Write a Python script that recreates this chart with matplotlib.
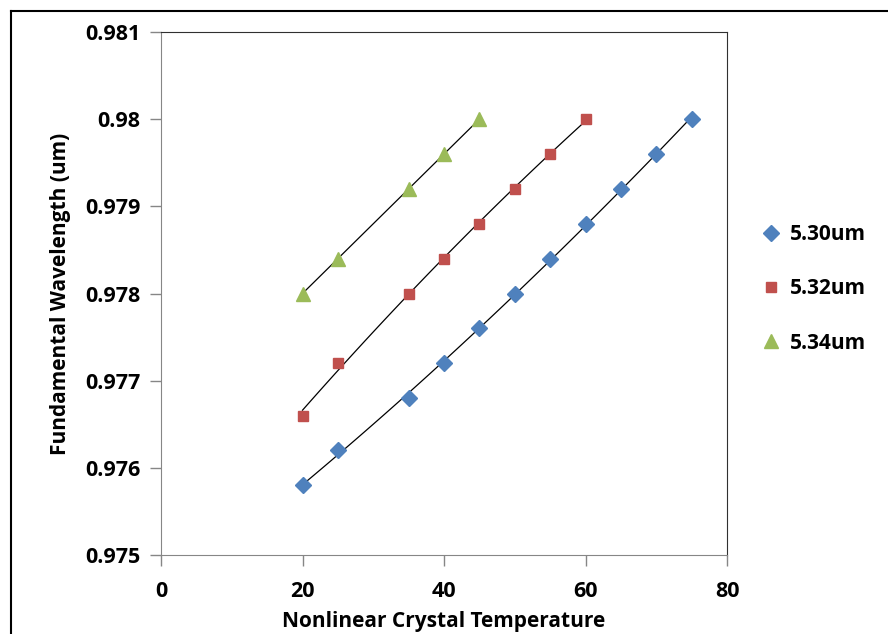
import numpy as np
import matplotlib.pyplot as plt
from matplotlib.lines import Line2D

plt.rcParams['font.family'] = ['Open Sans', 'DejaVu Sans']
plt.rcParams['font.weight'] = 'bold'

# data
t_530 = [20, 25, 35, 40, 45, 50, 55, 60, 65, 70, 75]
w_530 = [0.9758, 0.9762, 0.9768, 0.9772, 0.9776, 0.9780, 0.9784, 0.9788, 0.9792, 0.9796, 0.9800]
t_532 = [20, 25, 35, 40, 45, 50, 55, 60]
w_532 = [0.9766, 0.9772, 0.9780, 0.9784, 0.9788, 0.9792, 0.9796, 0.9800]
t_534 = [20, 25, 35, 40, 45]
w_534 = [0.9780, 0.9784, 0.9792, 0.9796, 0.9800]
labels = ['5.30um', '5.32um', '5.34um']
x_ticks = [0, 20, 40, 60, 80]
y_ticks = [0.975, 0.976, 0.977, 0.978, 0.979, 0.98, 0.981]

fig = plt.figure(figsize=(8.88, 6.34), dpi=100)
ax = fig.add_axes([161/888, 1-555/634, (727-161)/888, (555-32)/634])

series = [(t_530, w_530, '#4F81BD', 'D', 8.5),
          (t_532, w_532, '#C0504D', 's', 7),
          (t_534, w_534, '#9BBB59', '^', 10)]
for (t, w, c, m, s), lab in zip(series, labels):
    # polynomial trendline like Excel
    p = np.polyfit(t, w, 2)
    xx = np.linspace(min(t), max(t), 100)
    ax.plot(xx, np.polyval(p, xx), color='black', lw=0.9, zorder=2)
    ax.plot(t, w, ls='none', marker=m, ms=s, color=c, mec=c, label=lab, zorder=3)

ax.set_xlim(0, 80)
ax.set_ylim(0.975, 0.981)
ax.set_xticks(x_ticks)
ax.set_yticks(y_ticks)
ax.set_yticklabels([('%g' % v) for v in y_ticks])
ax.tick_params(direction='out', length=8, width=1, color='#868686', labelsize=15.5)
ax.tick_params(axis='x', pad=11)
ax.tick_params(axis='y', pad=7)
for lab in ax.get_xticklabels() + ax.get_yticklabels():
    lab.set_fontweight('bold')
ax.spines['left'].set_color('#868686')
ax.spines['bottom'].set_color('#868686')
ax.spines['top'].set_color('#303030')
ax.spines['right'].set_color('#303030')

ax.set_xlabel('Nonlinear Crystal Temperature', fontsize=15, fontweight='bold', labelpad=6)
ax.set_ylabel('Fundamental Wavelength (um)', fontsize=15, fontweight='bold', labelpad=10)

leg = ax.legend(loc='center left', bbox_to_anchor=(1.022, 0.509), frameon=False,
                fontsize=15, handletextpad=0.3, labelspacing=1.6, handlelength=1.2)
for txt in leg.get_texts():
    txt.set_fontweight('bold')

# outer chart border
fig.add_artist(Line2D([11/888, 1], [1-11/634, 1-11/634], color='black', lw=1.5))
fig.add_artist(Line2D([11/888, 11/888], [0, 1-11/634], color='black', lw=1.5))

fig.savefig('out.png', dpi=100)
